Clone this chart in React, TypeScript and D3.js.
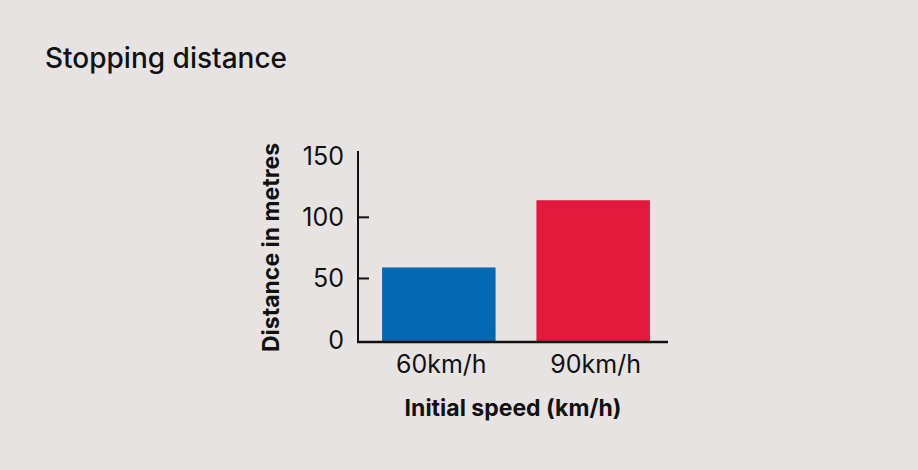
import React from 'react';
import * as d3 from 'd3';

const categories: string[] = ['60km/h', '90km/h'];
const distances: number[] = [59, 114];
const barColors: string[] = ['#0469b2', '#e2183d'];
const yTickValues: number[] = [50, 100];
const yLabelValues: number[] = [0, 50, 100, 150];
const titleText = 'Stopping distance';
const xAxisTitle = 'Initial speed (km/h)';
const yAxisTitle = 'Distance in metres';

const W = 918;
const H = 470;
const FONT = 'Inter, Roboto, sans-serif';

export default function App() {
  const y = d3.scaleLinear().domain([0, 150]).range([339.6, 156.2]);
  const x = d3
    .scaleBand<string>()
    .domain(categories)
    .range([362, 670])
    .paddingInner(0.2645)
    .paddingOuter(0.13);

  const axisX = 358;
  const baseY = 342;

  return (
    <div style={{ position: 'absolute', left: 0, top: 0 }}>
      <svg width={W} height={H} style={{ display: 'block' }}>
        <rect x={0} y={0} width={W} height={H} fill="#e6e3e2" />
        <text x={45} y={68} fontFamily={FONT} fontWeight={500} fontSize={28} fill="#111">
          {titleText}
        </text>

        {categories.map((c, i) => (
          <rect
            key={c}
            x={x(c)}
            y={y(distances[i])}
            width={x.bandwidth()}
            height={baseY - y(distances[i])}
            fill={barColors[i]}
          />
        ))}

        <line x1={axisX} x2={axisX} y1={151} y2={baseY} stroke="#111" strokeWidth={2} />
        <line x1={axisX - 1} x2={668} y1={baseY} y2={baseY} stroke="#111" strokeWidth={2.5} />
        {yTickValues.map((v) => (
          <line key={v} x1={axisX} x2={369} y1={y(v)} y2={y(v)} stroke="#111" strokeWidth={2} />
        ))}
        {yLabelValues.map((v) => (
          <text
            key={v}
            x={344}
            y={y(v)}
            dy="0.36em"
            textAnchor="end"
            fontFamily={FONT}
            fontSize={25}
            fill="#111"
          >
            {v}
          </text>
        ))}
        {categories.map((c) => (
          <text
            key={c}
            x={(x(c) as number) + x.bandwidth() / 2 + 2.5}
            y={373}
            textAnchor="middle"
            fontFamily={FONT}
            fontSize={25}
            fill="#111"
          >
            {c}
          </text>
        ))}
        <text
          x={513}
          y={416}
          textAnchor="middle"
          fontFamily={FONT}
          fontWeight={700}
          fontSize={23}
          fill="#111"
        >
          {xAxisTitle}
        </text>
        <text
          transform={`translate(279,247.5) rotate(-90)`}
          textAnchor="middle"
          fontFamily={FONT}
          fontWeight={700}
          fontSize={23}
          fill="#111"
        >
          {yAxisTitle}
        </text>
      </svg>
    </div>
  );
}
